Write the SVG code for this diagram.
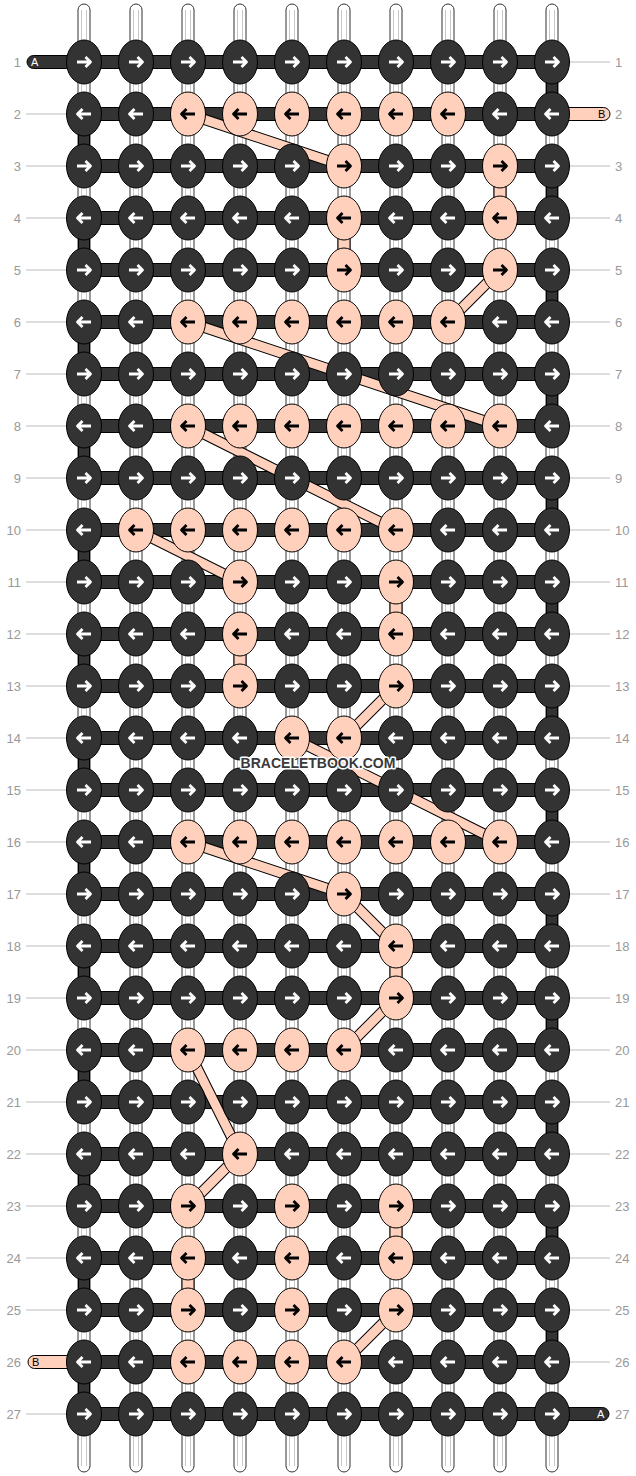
<svg xmlns="http://www.w3.org/2000/svg" xmlns:xlink="http://www.w3.org/1999/xlink" width="636" height="1476" viewBox="0 0 636 1476">
<style>
.warp{fill:#fff;stroke:#333;stroke-width:1}
.wl{stroke:#c8c8c8;stroke-width:1}
.bar{fill:#333;stroke:#000;stroke-width:1}
.pv{fill:#ffd0bc;stroke:#000;stroke-width:1}
.dk{fill:#333;stroke:#000;stroke-width:1}
.pk{fill:#ffd0bc;stroke:#000;stroke-width:1}
.aw{fill:none;stroke:#fff;stroke-width:2.8;stroke-linejoin:round}
.ab{fill:none;stroke:#000;stroke-width:2.8;stroke-linejoin:round}
.dg-o{stroke:#000;stroke-width:11;fill:none}
.dg-i{stroke:#ffd0bc;stroke-width:9;fill:none}
.guide{stroke:#bbb;stroke-width:1}
.lab{font-family:"Liberation Sans",Arial,sans-serif;font-size:13px;fill:#999}
.tl{font-family:"Liberation Sans",Arial,sans-serif;font-size:11px}
.wm{font-family:"Liberation Sans",Arial,sans-serif;font-size:14px;font-weight:bold;fill:#3a3a3a;stroke:#fff;stroke-width:3;paint-order:stroke;stroke-linejoin:round}
</style>
<defs>
<g id="DR"><ellipse class="dk" cx="0" cy="0" rx="17.5" ry="22"/><path class="aw" d="M-7,0H6.5M1.5,-5L6.5,0L1.5,5"/></g>
<g id="DL"><ellipse class="dk" cx="0" cy="0" rx="17.5" ry="22"/><path class="aw" d="M7,0H-6.5M-1.5,-5L-6.5,0L-1.5,5"/></g>
<g id="PR"><ellipse class="pk" cx="0" cy="0" rx="17.5" ry="22"/><path class="ab" d="M-7,0H6.5M1.5,-5L6.5,0L1.5,5"/></g>
<g id="PL"><ellipse class="pk" cx="0" cy="0" rx="17.5" ry="22"/><path class="ab" d="M7,0H-6.5M-1.5,-5L-6.5,0L-1.5,5"/></g>
</defs>
<rect width="636" height="1476" fill="#fff"/>
<g id="labels">
<g class="guide">
<line x1="26" y1="114" x2="66" y2="114"/><line x1="26" y1="166" x2="66" y2="166"/><line x1="26" y1="218" x2="66" y2="218"/><line x1="26" y1="270" x2="66" y2="270"/><line x1="26" y1="322" x2="66" y2="322"/><line x1="26" y1="374" x2="66" y2="374"/><line x1="26" y1="426" x2="66" y2="426"/><line x1="26" y1="478" x2="66" y2="478"/><line x1="26" y1="530" x2="66" y2="530"/><line x1="26" y1="582" x2="66" y2="582"/><line x1="26" y1="634" x2="66" y2="634"/><line x1="26" y1="686" x2="66" y2="686"/><line x1="26" y1="738" x2="66" y2="738"/><line x1="26" y1="790" x2="66" y2="790"/><line x1="26" y1="842" x2="66" y2="842"/><line x1="26" y1="894" x2="66" y2="894"/><line x1="26" y1="946" x2="66" y2="946"/><line x1="26" y1="998" x2="66" y2="998"/><line x1="26" y1="1050" x2="66" y2="1050"/><line x1="26" y1="1102" x2="66" y2="1102"/><line x1="26" y1="1154" x2="66" y2="1154"/><line x1="26" y1="1206" x2="66" y2="1206"/><line x1="26" y1="1258" x2="66" y2="1258"/><line x1="26" y1="1310" x2="66" y2="1310"/><line x1="26" y1="1414" x2="66" y2="1414"/>
<line x1="570" y1="62" x2="610" y2="62"/><line x1="570" y1="166" x2="610" y2="166"/><line x1="570" y1="218" x2="610" y2="218"/><line x1="570" y1="270" x2="610" y2="270"/><line x1="570" y1="322" x2="610" y2="322"/><line x1="570" y1="374" x2="610" y2="374"/><line x1="570" y1="426" x2="610" y2="426"/><line x1="570" y1="478" x2="610" y2="478"/><line x1="570" y1="530" x2="610" y2="530"/><line x1="570" y1="582" x2="610" y2="582"/><line x1="570" y1="634" x2="610" y2="634"/><line x1="570" y1="686" x2="610" y2="686"/><line x1="570" y1="738" x2="610" y2="738"/><line x1="570" y1="790" x2="610" y2="790"/><line x1="570" y1="842" x2="610" y2="842"/><line x1="570" y1="894" x2="610" y2="894"/><line x1="570" y1="946" x2="610" y2="946"/><line x1="570" y1="998" x2="610" y2="998"/><line x1="570" y1="1050" x2="610" y2="1050"/><line x1="570" y1="1102" x2="610" y2="1102"/><line x1="570" y1="1154" x2="610" y2="1154"/><line x1="570" y1="1206" x2="610" y2="1206"/><line x1="570" y1="1258" x2="610" y2="1258"/><line x1="570" y1="1310" x2="610" y2="1310"/><line x1="570" y1="1362" x2="610" y2="1362"/>
</g>
<g class="lab" text-anchor="end">
<text x="21" y="67">1</text><text x="21" y="119">2</text><text x="21" y="171">3</text><text x="21" y="223">4</text><text x="21" y="275">5</text><text x="21" y="327">6</text><text x="21" y="379">7</text><text x="21" y="431">8</text><text x="21" y="483">9</text><text x="21" y="535">10</text><text x="21" y="587">11</text><text x="21" y="639">12</text><text x="21" y="691">13</text><text x="21" y="743">14</text><text x="21" y="795">15</text><text x="21" y="847">16</text><text x="21" y="899">17</text><text x="21" y="951">18</text><text x="21" y="1003">19</text><text x="21" y="1055">20</text><text x="21" y="1107">21</text><text x="21" y="1159">22</text><text x="21" y="1211">23</text><text x="21" y="1263">24</text><text x="21" y="1315">25</text><text x="21" y="1367">26</text><text x="21" y="1419">27</text>
</g>
<g class="lab">
<text x="615" y="67">1</text><text x="615" y="119">2</text><text x="615" y="171">3</text><text x="615" y="223">4</text><text x="615" y="275">5</text><text x="615" y="327">6</text><text x="615" y="379">7</text><text x="615" y="431">8</text><text x="615" y="483">9</text><text x="615" y="535">10</text><text x="615" y="587">11</text><text x="615" y="639">12</text><text x="615" y="691">13</text><text x="615" y="743">14</text><text x="615" y="795">15</text><text x="615" y="847">16</text><text x="615" y="899">17</text><text x="615" y="951">18</text><text x="615" y="1003">19</text><text x="615" y="1055">20</text><text x="615" y="1107">21</text><text x="615" y="1159">22</text><text x="615" y="1211">23</text><text x="615" y="1263">24</text><text x="615" y="1315">25</text><text x="615" y="1367">26</text><text x="615" y="1419">27</text>
</g>
</g>
<g id="connectors">
<g id="warps">
<rect class="warp" x="78" y="4" width="12" height="1468" rx="6"/><rect class="warp" x="130" y="4" width="12" height="1468" rx="6"/><rect class="warp" x="182" y="4" width="12" height="1468" rx="6"/><rect class="warp" x="234" y="4" width="12" height="1468" rx="6"/><rect class="warp" x="286" y="4" width="12" height="1468" rx="6"/><rect class="warp" x="338" y="4" width="12" height="1468" rx="6"/><rect class="warp" x="390" y="4" width="12" height="1468" rx="6"/><rect class="warp" x="442" y="4" width="12" height="1468" rx="6"/><rect class="warp" x="494" y="4" width="12" height="1468" rx="6"/><rect class="warp" x="546" y="4" width="12" height="1468" rx="6"/>
<g class="wl">
<line x1="81.5" y1="10" x2="81.5" y2="1466"/><line x1="86.5" y1="10" x2="86.5" y2="1466"/>
<line x1="133.5" y1="10" x2="133.5" y2="1466"/><line x1="138.5" y1="10" x2="138.5" y2="1466"/>
<line x1="185.5" y1="10" x2="185.5" y2="1466"/><line x1="190.5" y1="10" x2="190.5" y2="1466"/>
<line x1="237.5" y1="10" x2="237.5" y2="1466"/><line x1="242.5" y1="10" x2="242.5" y2="1466"/>
<line x1="289.5" y1="10" x2="289.5" y2="1466"/><line x1="294.5" y1="10" x2="294.5" y2="1466"/>
<line x1="341.5" y1="10" x2="341.5" y2="1466"/><line x1="346.5" y1="10" x2="346.5" y2="1466"/>
<line x1="393.5" y1="10" x2="393.5" y2="1466"/><line x1="398.5" y1="10" x2="398.5" y2="1466"/>
<line x1="445.5" y1="10" x2="445.5" y2="1466"/><line x1="450.5" y1="10" x2="450.5" y2="1466"/>
<line x1="497.5" y1="10" x2="497.5" y2="1466"/><line x1="502.5" y1="10" x2="502.5" y2="1466"/>
<line x1="549.5" y1="10" x2="549.5" y2="1466"/><line x1="554.5" y1="10" x2="554.5" y2="1466"/>
</g>
</g>
<g id="turns">
<rect class="bar" x="546.5" y="62" width="11" height="52"/><rect class="bar" x="78.5" y="114" width="11" height="52"/><rect class="bar" x="546.5" y="166" width="11" height="52"/><rect class="bar" x="78.5" y="218" width="11" height="52"/><rect class="bar" x="546.5" y="270" width="11" height="52"/><rect class="bar" x="78.5" y="322" width="11" height="52"/><rect class="bar" x="546.5" y="374" width="11" height="52"/><rect class="bar" x="78.5" y="426" width="11" height="52"/><rect class="bar" x="546.5" y="478" width="11" height="52"/><rect class="bar" x="78.5" y="530" width="11" height="52"/><rect class="bar" x="546.5" y="582" width="11" height="52"/><rect class="bar" x="78.5" y="634" width="11" height="52"/><rect class="bar" x="546.5" y="686" width="11" height="52"/><rect class="bar" x="78.5" y="738" width="11" height="52"/><rect class="bar" x="546.5" y="790" width="11" height="52"/><rect class="bar" x="78.5" y="842" width="11" height="52"/><rect class="bar" x="546.5" y="894" width="11" height="52"/><rect class="bar" x="78.5" y="946" width="11" height="52"/><rect class="bar" x="546.5" y="998" width="11" height="52"/><rect class="bar" x="78.5" y="1050" width="11" height="52"/><rect class="bar" x="546.5" y="1102" width="11" height="52"/><rect class="bar" x="78.5" y="1154" width="11" height="52"/><rect class="bar" x="546.5" y="1206" width="11" height="52"/><rect class="bar" x="78.5" y="1258" width="11" height="52"/><rect class="bar" x="546.5" y="1310" width="11" height="52"/><rect class="bar" x="78.5" y="1362" width="11" height="52"/>
</g>
<g id="rows">
<rect class="bar" x="84" y="55.5" width="468" height="13"/><rect class="bar" x="84" y="107.5" width="468" height="13"/><rect class="bar" x="84" y="159.5" width="468" height="13"/><rect class="bar" x="84" y="211.5" width="468" height="13"/><rect class="bar" x="84" y="263.5" width="468" height="13"/><rect class="bar" x="84" y="315.5" width="468" height="13"/><rect class="bar" x="84" y="367.5" width="468" height="13"/><rect class="bar" x="84" y="419.5" width="468" height="13"/><rect class="bar" x="84" y="471.5" width="468" height="13"/><rect class="bar" x="84" y="523.5" width="468" height="13"/><rect class="bar" x="84" y="575.5" width="468" height="13"/><rect class="bar" x="84" y="627.5" width="468" height="13"/><rect class="bar" x="84" y="679.5" width="468" height="13"/><rect class="bar" x="84" y="731.5" width="468" height="13"/><rect class="bar" x="84" y="783.5" width="468" height="13"/><rect class="bar" x="84" y="835.5" width="468" height="13"/><rect class="bar" x="84" y="887.5" width="468" height="13"/><rect class="bar" x="84" y="939.5" width="468" height="13"/><rect class="bar" x="84" y="991.5" width="468" height="13"/><rect class="bar" x="84" y="1043.5" width="468" height="13"/><rect class="bar" x="84" y="1095.5" width="468" height="13"/><rect class="bar" x="84" y="1147.5" width="468" height="13"/><rect class="bar" x="84" y="1199.5" width="468" height="13"/><rect class="bar" x="84" y="1251.5" width="468" height="13"/><rect class="bar" x="84" y="1303.5" width="468" height="13"/><rect class="bar" x="84" y="1355.5" width="468" height="13"/><rect class="bar" x="84" y="1407.5" width="468" height="13"/>
</g>
<g id="tails">
<rect class="bar" x="27" y="55.5" width="62" height="13" rx="6.5"/>
<text class="tl" x="31" y="66" fill="#fff">A</text>
<rect class="pv" x="547" y="107.5" width="63" height="13" rx="6.5"/>
<text class="tl" x="598" y="118" fill="#000">B</text>
<rect class="pv" x="28" y="1355.5" width="61" height="13" rx="6.5"/>
<text class="tl" x="32" y="1366" fill="#000">B</text>
<rect class="bar" x="547" y="1407.5" width="62" height="13" rx="6.5"/>
<text class="tl" x="597" y="1418" fill="#fff">A</text>
</g>
<g id="b-verticals">
<rect class="pv" x="494" y="166" width="12" height="52"/><rect class="pv" x="338" y="218" width="12" height="52"/><rect class="pv" x="390" y="582" width="12" height="52"/><rect class="pv" x="234" y="634" width="12" height="52"/><rect class="pv" x="390" y="946" width="12" height="52"/><rect class="pv" x="390" y="1206" width="12" height="52"/><rect class="pv" x="182" y="1258" width="12" height="52"/>
</g>
<g id="b-diagonals">
<g class="dg-o">
<line x1="188" y1="114" x2="344" y2="166"/><line x1="500" y1="270" x2="448" y2="322"/><line x1="188" y1="322" x2="500" y2="426"/><line x1="188" y1="426" x2="396" y2="530"/><line x1="136" y1="530" x2="240" y2="582"/><line x1="396" y1="686" x2="344" y2="738"/><line x1="292" y1="738" x2="500" y2="842"/><line x1="188" y1="842" x2="344" y2="894"/><line x1="344" y1="894" x2="396" y2="946"/><line x1="396" y1="998" x2="344" y2="1050"/><line x1="188" y1="1050" x2="240" y2="1154"/><line x1="240" y1="1154" x2="188" y2="1206"/><line x1="396" y1="1310" x2="344" y2="1362"/>
</g>
<g class="dg-i">
<line x1="188" y1="114" x2="344" y2="166"/><line x1="500" y1="270" x2="448" y2="322"/><line x1="188" y1="322" x2="500" y2="426"/><line x1="188" y1="426" x2="396" y2="530"/><line x1="136" y1="530" x2="240" y2="582"/><line x1="396" y1="686" x2="344" y2="738"/><line x1="292" y1="738" x2="500" y2="842"/><line x1="188" y1="842" x2="344" y2="894"/><line x1="344" y1="894" x2="396" y2="946"/><line x1="396" y1="998" x2="344" y2="1050"/><line x1="188" y1="1050" x2="240" y2="1154"/><line x1="240" y1="1154" x2="188" y2="1206"/><line x1="396" y1="1310" x2="344" y2="1362"/>
</g>
</g>
</g>
<g id="knots">
<g id="k1-1"><use href="#DR" x="84" y="62"/></g><g id="k1-2"><use href="#DR" x="136" y="62"/></g><g id="k1-3"><use href="#DR" x="188" y="62"/></g><g id="k1-4"><use href="#DR" x="240" y="62"/></g><g id="k1-5"><use href="#DR" x="292" y="62"/></g><g id="k1-6"><use href="#DR" x="344" y="62"/></g><g id="k1-7"><use href="#DR" x="396" y="62"/></g><g id="k1-8"><use href="#DR" x="448" y="62"/></g><g id="k1-9"><use href="#DR" x="500" y="62"/></g><g id="k1-10"><use href="#DR" x="552" y="62"/></g>
<g id="k2-1"><use href="#DL" x="84" y="114"/></g><g id="k2-2"><use href="#DL" x="136" y="114"/></g><g id="k2-3"><use href="#PL" x="188" y="114"/></g><g id="k2-4"><use href="#PL" x="240" y="114"/></g><g id="k2-5"><use href="#PL" x="292" y="114"/></g><g id="k2-6"><use href="#PL" x="344" y="114"/></g><g id="k2-7"><use href="#PL" x="396" y="114"/></g><g id="k2-8"><use href="#PL" x="448" y="114"/></g><g id="k2-9"><use href="#DL" x="500" y="114"/></g><g id="k2-10"><use href="#DL" x="552" y="114"/></g>
<g id="k3-1"><use href="#DR" x="84" y="166"/></g><g id="k3-2"><use href="#DR" x="136" y="166"/></g><g id="k3-3"><use href="#DR" x="188" y="166"/></g><g id="k3-4"><use href="#DR" x="240" y="166"/></g><g id="k3-5"><use href="#DR" x="292" y="166"/></g><g id="k3-6"><use href="#PR" x="344" y="166"/></g><g id="k3-7"><use href="#DR" x="396" y="166"/></g><g id="k3-8"><use href="#DR" x="448" y="166"/></g><g id="k3-9"><use href="#PR" x="500" y="166"/></g><g id="k3-10"><use href="#DR" x="552" y="166"/></g>
<g id="k4-1"><use href="#DL" x="84" y="218"/></g><g id="k4-2"><use href="#DL" x="136" y="218"/></g><g id="k4-3"><use href="#DL" x="188" y="218"/></g><g id="k4-4"><use href="#DL" x="240" y="218"/></g><g id="k4-5"><use href="#DL" x="292" y="218"/></g><g id="k4-6"><use href="#PL" x="344" y="218"/></g><g id="k4-7"><use href="#DL" x="396" y="218"/></g><g id="k4-8"><use href="#DL" x="448" y="218"/></g><g id="k4-9"><use href="#PL" x="500" y="218"/></g><g id="k4-10"><use href="#DL" x="552" y="218"/></g>
<g id="k5-1"><use href="#DR" x="84" y="270"/></g><g id="k5-2"><use href="#DR" x="136" y="270"/></g><g id="k5-3"><use href="#DR" x="188" y="270"/></g><g id="k5-4"><use href="#DR" x="240" y="270"/></g><g id="k5-5"><use href="#DR" x="292" y="270"/></g><g id="k5-6"><use href="#PR" x="344" y="270"/></g><g id="k5-7"><use href="#DR" x="396" y="270"/></g><g id="k5-8"><use href="#DR" x="448" y="270"/></g><g id="k5-9"><use href="#PR" x="500" y="270"/></g><g id="k5-10"><use href="#DR" x="552" y="270"/></g>
<g id="k6-1"><use href="#DL" x="84" y="322"/></g><g id="k6-2"><use href="#DL" x="136" y="322"/></g><g id="k6-3"><use href="#PL" x="188" y="322"/></g><g id="k6-4"><use href="#PL" x="240" y="322"/></g><g id="k6-5"><use href="#PL" x="292" y="322"/></g><g id="k6-6"><use href="#PL" x="344" y="322"/></g><g id="k6-7"><use href="#PL" x="396" y="322"/></g><g id="k6-8"><use href="#PL" x="448" y="322"/></g><g id="k6-9"><use href="#DL" x="500" y="322"/></g><g id="k6-10"><use href="#DL" x="552" y="322"/></g>
<g id="k7-1"><use href="#DR" x="84" y="374"/></g><g id="k7-2"><use href="#DR" x="136" y="374"/></g><g id="k7-3"><use href="#DR" x="188" y="374"/></g><g id="k7-4"><use href="#DR" x="240" y="374"/></g><g id="k7-5"><use href="#DR" x="292" y="374"/></g><g id="k7-6"><use href="#DR" x="344" y="374"/></g><g id="k7-7"><use href="#DR" x="396" y="374"/></g><g id="k7-8"><use href="#DR" x="448" y="374"/></g><g id="k7-9"><use href="#DR" x="500" y="374"/></g><g id="k7-10"><use href="#DR" x="552" y="374"/></g>
<g id="k8-1"><use href="#DL" x="84" y="426"/></g><g id="k8-2"><use href="#DL" x="136" y="426"/></g><g id="k8-3"><use href="#PL" x="188" y="426"/></g><g id="k8-4"><use href="#PL" x="240" y="426"/></g><g id="k8-5"><use href="#PL" x="292" y="426"/></g><g id="k8-6"><use href="#PL" x="344" y="426"/></g><g id="k8-7"><use href="#PL" x="396" y="426"/></g><g id="k8-8"><use href="#PL" x="448" y="426"/></g><g id="k8-9"><use href="#PL" x="500" y="426"/></g><g id="k8-10"><use href="#DL" x="552" y="426"/></g>
<g id="k9-1"><use href="#DR" x="84" y="478"/></g><g id="k9-2"><use href="#DR" x="136" y="478"/></g><g id="k9-3"><use href="#DR" x="188" y="478"/></g><g id="k9-4"><use href="#DR" x="240" y="478"/></g><g id="k9-5"><use href="#DR" x="292" y="478"/></g><g id="k9-6"><use href="#DR" x="344" y="478"/></g><g id="k9-7"><use href="#DR" x="396" y="478"/></g><g id="k9-8"><use href="#DR" x="448" y="478"/></g><g id="k9-9"><use href="#DR" x="500" y="478"/></g><g id="k9-10"><use href="#DR" x="552" y="478"/></g>
<g id="k10-1"><use href="#DL" x="84" y="530"/></g><g id="k10-2"><use href="#PL" x="136" y="530"/></g><g id="k10-3"><use href="#PL" x="188" y="530"/></g><g id="k10-4"><use href="#PL" x="240" y="530"/></g><g id="k10-5"><use href="#PL" x="292" y="530"/></g><g id="k10-6"><use href="#PL" x="344" y="530"/></g><g id="k10-7"><use href="#PL" x="396" y="530"/></g><g id="k10-8"><use href="#DL" x="448" y="530"/></g><g id="k10-9"><use href="#DL" x="500" y="530"/></g><g id="k10-10"><use href="#DL" x="552" y="530"/></g>
<g id="k11-1"><use href="#DR" x="84" y="582"/></g><g id="k11-2"><use href="#DR" x="136" y="582"/></g><g id="k11-3"><use href="#DR" x="188" y="582"/></g><g id="k11-4"><use href="#PR" x="240" y="582"/></g><g id="k11-5"><use href="#DR" x="292" y="582"/></g><g id="k11-6"><use href="#DR" x="344" y="582"/></g><g id="k11-7"><use href="#PR" x="396" y="582"/></g><g id="k11-8"><use href="#DR" x="448" y="582"/></g><g id="k11-9"><use href="#DR" x="500" y="582"/></g><g id="k11-10"><use href="#DR" x="552" y="582"/></g>
<g id="k12-1"><use href="#DL" x="84" y="634"/></g><g id="k12-2"><use href="#DL" x="136" y="634"/></g><g id="k12-3"><use href="#DL" x="188" y="634"/></g><g id="k12-4"><use href="#PL" x="240" y="634"/></g><g id="k12-5"><use href="#DL" x="292" y="634"/></g><g id="k12-6"><use href="#DL" x="344" y="634"/></g><g id="k12-7"><use href="#PL" x="396" y="634"/></g><g id="k12-8"><use href="#DL" x="448" y="634"/></g><g id="k12-9"><use href="#DL" x="500" y="634"/></g><g id="k12-10"><use href="#DL" x="552" y="634"/></g>
<g id="k13-1"><use href="#DR" x="84" y="686"/></g><g id="k13-2"><use href="#DR" x="136" y="686"/></g><g id="k13-3"><use href="#DR" x="188" y="686"/></g><g id="k13-4"><use href="#PR" x="240" y="686"/></g><g id="k13-5"><use href="#DR" x="292" y="686"/></g><g id="k13-6"><use href="#DR" x="344" y="686"/></g><g id="k13-7"><use href="#PR" x="396" y="686"/></g><g id="k13-8"><use href="#DR" x="448" y="686"/></g><g id="k13-9"><use href="#DR" x="500" y="686"/></g><g id="k13-10"><use href="#DR" x="552" y="686"/></g>
<g id="k14-1"><use href="#DL" x="84" y="738"/></g><g id="k14-2"><use href="#DL" x="136" y="738"/></g><g id="k14-3"><use href="#DL" x="188" y="738"/></g><g id="k14-4"><use href="#DL" x="240" y="738"/></g><g id="k14-5"><use href="#PL" x="292" y="738"/></g><g id="k14-6"><use href="#PL" x="344" y="738"/></g><g id="k14-7"><use href="#DL" x="396" y="738"/></g><g id="k14-8"><use href="#DL" x="448" y="738"/></g><g id="k14-9"><use href="#DL" x="500" y="738"/></g><g id="k14-10"><use href="#DL" x="552" y="738"/></g>
<g id="k15-1"><use href="#DR" x="84" y="790"/></g><g id="k15-2"><use href="#DR" x="136" y="790"/></g><g id="k15-3"><use href="#DR" x="188" y="790"/></g><g id="k15-4"><use href="#DR" x="240" y="790"/></g><g id="k15-5"><use href="#DR" x="292" y="790"/></g><g id="k15-6"><use href="#DR" x="344" y="790"/></g><g id="k15-7"><use href="#DR" x="396" y="790"/></g><g id="k15-8"><use href="#DR" x="448" y="790"/></g><g id="k15-9"><use href="#DR" x="500" y="790"/></g><g id="k15-10"><use href="#DR" x="552" y="790"/></g>
<g id="k16-1"><use href="#DL" x="84" y="842"/></g><g id="k16-2"><use href="#DL" x="136" y="842"/></g><g id="k16-3"><use href="#PL" x="188" y="842"/></g><g id="k16-4"><use href="#PL" x="240" y="842"/></g><g id="k16-5"><use href="#PL" x="292" y="842"/></g><g id="k16-6"><use href="#PL" x="344" y="842"/></g><g id="k16-7"><use href="#PL" x="396" y="842"/></g><g id="k16-8"><use href="#PL" x="448" y="842"/></g><g id="k16-9"><use href="#PL" x="500" y="842"/></g><g id="k16-10"><use href="#DL" x="552" y="842"/></g>
<g id="k17-1"><use href="#DR" x="84" y="894"/></g><g id="k17-2"><use href="#DR" x="136" y="894"/></g><g id="k17-3"><use href="#DR" x="188" y="894"/></g><g id="k17-4"><use href="#DR" x="240" y="894"/></g><g id="k17-5"><use href="#DR" x="292" y="894"/></g><g id="k17-6"><use href="#PR" x="344" y="894"/></g><g id="k17-7"><use href="#DR" x="396" y="894"/></g><g id="k17-8"><use href="#DR" x="448" y="894"/></g><g id="k17-9"><use href="#DR" x="500" y="894"/></g><g id="k17-10"><use href="#DR" x="552" y="894"/></g>
<g id="k18-1"><use href="#DL" x="84" y="946"/></g><g id="k18-2"><use href="#DL" x="136" y="946"/></g><g id="k18-3"><use href="#DL" x="188" y="946"/></g><g id="k18-4"><use href="#DL" x="240" y="946"/></g><g id="k18-5"><use href="#DL" x="292" y="946"/></g><g id="k18-6"><use href="#DL" x="344" y="946"/></g><g id="k18-7"><use href="#PL" x="396" y="946"/></g><g id="k18-8"><use href="#DL" x="448" y="946"/></g><g id="k18-9"><use href="#DL" x="500" y="946"/></g><g id="k18-10"><use href="#DL" x="552" y="946"/></g>
<g id="k19-1"><use href="#DR" x="84" y="998"/></g><g id="k19-2"><use href="#DR" x="136" y="998"/></g><g id="k19-3"><use href="#DR" x="188" y="998"/></g><g id="k19-4"><use href="#DR" x="240" y="998"/></g><g id="k19-5"><use href="#DR" x="292" y="998"/></g><g id="k19-6"><use href="#DR" x="344" y="998"/></g><g id="k19-7"><use href="#PR" x="396" y="998"/></g><g id="k19-8"><use href="#DR" x="448" y="998"/></g><g id="k19-9"><use href="#DR" x="500" y="998"/></g><g id="k19-10"><use href="#DR" x="552" y="998"/></g>
<g id="k20-1"><use href="#DL" x="84" y="1050"/></g><g id="k20-2"><use href="#DL" x="136" y="1050"/></g><g id="k20-3"><use href="#PL" x="188" y="1050"/></g><g id="k20-4"><use href="#PL" x="240" y="1050"/></g><g id="k20-5"><use href="#PL" x="292" y="1050"/></g><g id="k20-6"><use href="#PL" x="344" y="1050"/></g><g id="k20-7"><use href="#DL" x="396" y="1050"/></g><g id="k20-8"><use href="#DL" x="448" y="1050"/></g><g id="k20-9"><use href="#DL" x="500" y="1050"/></g><g id="k20-10"><use href="#DL" x="552" y="1050"/></g>
<g id="k21-1"><use href="#DR" x="84" y="1102"/></g><g id="k21-2"><use href="#DR" x="136" y="1102"/></g><g id="k21-3"><use href="#DR" x="188" y="1102"/></g><g id="k21-4"><use href="#DR" x="240" y="1102"/></g><g id="k21-5"><use href="#DR" x="292" y="1102"/></g><g id="k21-6"><use href="#DR" x="344" y="1102"/></g><g id="k21-7"><use href="#DR" x="396" y="1102"/></g><g id="k21-8"><use href="#DR" x="448" y="1102"/></g><g id="k21-9"><use href="#DR" x="500" y="1102"/></g><g id="k21-10"><use href="#DR" x="552" y="1102"/></g>
<g id="k22-1"><use href="#DL" x="84" y="1154"/></g><g id="k22-2"><use href="#DL" x="136" y="1154"/></g><g id="k22-3"><use href="#DL" x="188" y="1154"/></g><g id="k22-4"><use href="#PL" x="240" y="1154"/></g><g id="k22-5"><use href="#DL" x="292" y="1154"/></g><g id="k22-6"><use href="#DL" x="344" y="1154"/></g><g id="k22-7"><use href="#DL" x="396" y="1154"/></g><g id="k22-8"><use href="#DL" x="448" y="1154"/></g><g id="k22-9"><use href="#DL" x="500" y="1154"/></g><g id="k22-10"><use href="#DL" x="552" y="1154"/></g>
<g id="k23-1"><use href="#DR" x="84" y="1206"/></g><g id="k23-2"><use href="#DR" x="136" y="1206"/></g><g id="k23-3"><use href="#PR" x="188" y="1206"/></g><g id="k23-4"><use href="#DR" x="240" y="1206"/></g><g id="k23-5"><use href="#PR" x="292" y="1206"/></g><g id="k23-6"><use href="#DR" x="344" y="1206"/></g><g id="k23-7"><use href="#PR" x="396" y="1206"/></g><g id="k23-8"><use href="#DR" x="448" y="1206"/></g><g id="k23-9"><use href="#DR" x="500" y="1206"/></g><g id="k23-10"><use href="#DR" x="552" y="1206"/></g>
<g id="k24-1"><use href="#DL" x="84" y="1258"/></g><g id="k24-2"><use href="#DL" x="136" y="1258"/></g><g id="k24-3"><use href="#PL" x="188" y="1258"/></g><g id="k24-4"><use href="#DL" x="240" y="1258"/></g><g id="k24-5"><use href="#PL" x="292" y="1258"/></g><g id="k24-6"><use href="#DL" x="344" y="1258"/></g><g id="k24-7"><use href="#PL" x="396" y="1258"/></g><g id="k24-8"><use href="#DL" x="448" y="1258"/></g><g id="k24-9"><use href="#DL" x="500" y="1258"/></g><g id="k24-10"><use href="#DL" x="552" y="1258"/></g>
<g id="k25-1"><use href="#DR" x="84" y="1310"/></g><g id="k25-2"><use href="#DR" x="136" y="1310"/></g><g id="k25-3"><use href="#PR" x="188" y="1310"/></g><g id="k25-4"><use href="#DR" x="240" y="1310"/></g><g id="k25-5"><use href="#PR" x="292" y="1310"/></g><g id="k25-6"><use href="#DR" x="344" y="1310"/></g><g id="k25-7"><use href="#PR" x="396" y="1310"/></g><g id="k25-8"><use href="#DR" x="448" y="1310"/></g><g id="k25-9"><use href="#DR" x="500" y="1310"/></g><g id="k25-10"><use href="#DR" x="552" y="1310"/></g>
<g id="k26-1"><use href="#DL" x="84" y="1362"/></g><g id="k26-2"><use href="#DL" x="136" y="1362"/></g><g id="k26-3"><use href="#PL" x="188" y="1362"/></g><g id="k26-4"><use href="#PL" x="240" y="1362"/></g><g id="k26-5"><use href="#PL" x="292" y="1362"/></g><g id="k26-6"><use href="#PL" x="344" y="1362"/></g><g id="k26-7"><use href="#DL" x="396" y="1362"/></g><g id="k26-8"><use href="#DL" x="448" y="1362"/></g><g id="k26-9"><use href="#DL" x="500" y="1362"/></g><g id="k26-10"><use href="#DL" x="552" y="1362"/></g>
<g id="k27-1"><use href="#DR" x="84" y="1414"/></g><g id="k27-2"><use href="#DR" x="136" y="1414"/></g><g id="k27-3"><use href="#DR" x="188" y="1414"/></g><g id="k27-4"><use href="#DR" x="240" y="1414"/></g><g id="k27-5"><use href="#DR" x="292" y="1414"/></g><g id="k27-6"><use href="#DR" x="344" y="1414"/></g><g id="k27-7"><use href="#DR" x="396" y="1414"/></g><g id="k27-8"><use href="#DR" x="448" y="1414"/></g><g id="k27-9"><use href="#DR" x="500" y="1414"/></g><g id="k27-10"><use href="#DR" x="552" y="1414"/></g>
</g>
<text class="wm" x="318" y="768" text-anchor="middle">BRACELETBOOK.COM</text>
</svg>
